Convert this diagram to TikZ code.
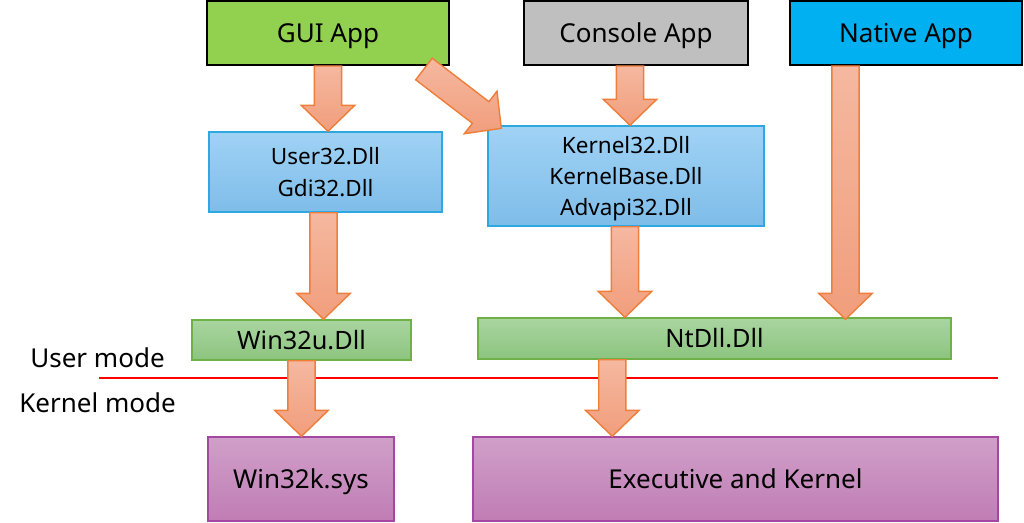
\documentclass[tikz,border=0pt]{standalone}
\usepackage{fontspec}
\setmainfont{Noto Sans}
\usetikzlibrary{calc, positioning}

\definecolor{guigreen}{HTML}{92D050}
\definecolor{consolegray}{HTML}{BFBFBF}
\definecolor{nativeblue}{HTML}{00B0F0}
\definecolor{dlltop}{HTML}{A0D2F5}
\definecolor{dllbot}{HTML}{7EBDE9}
\definecolor{dllline}{HTML}{2EA8E0}
\definecolor{stubtop}{HTML}{A9D5A0}
\definecolor{stubbot}{HTML}{8CC47F}
\definecolor{stubline}{HTML}{6FB047}
\definecolor{kerntop}{HTML}{D09FC9}
\definecolor{kernbot}{HTML}{C07DB5}
\definecolor{kernline}{HTML}{A347A3}
\definecolor{arrowtop}{HTML}{F5B8A0}
\definecolor{arrowbot}{HTML}{F19E7C}
\definecolor{arrowline}{HTML}{EE7E3A}

\def\shafthw{0.34cm}
\def\headhw{0.67cm}
\def\headlen{0.65cm}

% block arrow between two named coordinates
\newcommand{\blockarrow}[2]{%
    \coordinate (#1-base) at ($(#2)!\headlen!(#1)$);
    \filldraw[block_arrow]
        ($(#1)!\shafthw!90:(#2)$) --
        ($(#1-base)!\shafthw!90:(#2)$) --
        ($(#1-base)!\headhw!90:(#2)$) --
        (#2) --
        ($(#1-base)!\headhw!-90:(#2)$) --
        ($(#1-base)!\shafthw!-90:(#2)$) --
        ($(#1)!\shafthw!-90:(#2)$) -- cycle;
}

\begin{document}
\begin{tikzpicture}[
    x=0.025cm, y=-0.025cm,
    every node/.style={
            rectangle,
            text centered,
            inner sep=0pt
        },
    big_text/.style={font=\fontsize{18.5}{22}\selectfont, text height=13.2pt, text depth=0pt},
    app_block/.style={
            big_text,
            draw=black,
            line width=1.4pt
        },
    dll_block/.style={
            draw=dllline,
            line width=1pt,
            top color=dlltop,
            bottom color=dllbot,
            align=center,
            text depth=0pt,
            font=\fontsize{16}{22.3}\selectfont
        },
    stub_block/.style={
            draw=stubline,
            line width=1pt,
            top color=stubtop,
            bottom color=stubbot,
            font=\fontsize{18}{21}\selectfont,
            text height=12.9pt,
            text depth=0pt
        },
    kernel_block/.style={
            big_text,
            draw=kernline,
            line width=1pt,
            top color=kerntop,
            bottom color=kernbot
        },
    mode_label/.style={big_text},
    block_arrow/.style={
            draw=arrowline,
            line width=1pt,
            line join=miter,
            top color=arrowtop,
            bottom color=arrowbot
        },
    ]
    \useasboundingbox (0,0) rectangle (1024,522);

    % --- Applications ---
    \node (gui_app) [app_block, fill=guigreen, minimum width=242*0.025cm, minimum height=64*0.025cm] at (328,33) {GUI App};
    \node (console_app) [app_block, fill=consolegray, minimum width=224*0.025cm, minimum height=64*0.025cm] at (636,33) {Console App};
    \node (native_app) [app_block, fill=nativeblue, minimum width=232*0.025cm, minimum height=64*0.025cm] at (906,33) {Native App};

    % --- Subsystem DLLs ---
    \node (user_dll) [dll_block, minimum width=233*0.025cm, minimum height=80*0.025cm] at (325.5,172) {User32.Dll\\Gdi32.Dll};
    \node (kernel_dll) [dll_block, minimum width=276*0.025cm, minimum height=100*0.025cm] at (626,176) {Kernel32.Dll\\KernelBase.Dll\\Advapi32.Dll};

    % --- System call stubs ---
    \node (win32u) [stub_block, minimum width=219*0.025cm, minimum height=40*0.025cm] at (301.5,340) {Win32u.Dll};
    \node (ntdll) [stub_block, minimum width=473*0.025cm, minimum height=41*0.025cm] at (714.5,338.5) {NtDll.Dll};

    % --- Kernel side ---
    \node (win32k) [kernel_block, minimum width=186*0.025cm, minimum height=84*0.025cm] at (301,479) {Win32k.sys};
    \node (executive) [kernel_block, minimum width=525*0.025cm, minimum height=84*0.025cm] at (735.5,479) {Executive and Kernel};

    % --- Mode boundary ---
    \node (user_mode) [mode_label] at (97.5,358) {User mode};
    \node (kernel_mode) [mode_label] at (97.5,403) {Kernel mode};
    \coordinate (border_left) at (99,378);
    \coordinate (border_right) at (998,378);
    \draw[red, line width=1.4pt] (border_left) -- (border_right);

    % --- Arrows ---
    \coordinate (a1) at (gui_app.south);
    \coordinate (a1_end) at (gui_app.south |- user_dll.north);
    \blockarrow{a1}{a1_end}
    \coordinate (a2) at ($(gui_app.south east)+(-26,3)$);
    \coordinate (a2_end) at ($(kernel_dll.north west)+(14,3)$);
    \blockarrow{a2}{a2_end}
    \coordinate (a3) at ($(console_app.south)+(-6,0)$);
    \coordinate (a3_end) at (a3 |- kernel_dll.north);
    \blockarrow{a3}{a3_end}
    \coordinate (a4) at ($(native_app.south west)+(56.5,0)$);
    \coordinate (a4_end) at ($(a4 |- ntdll.north)+(0,2)$);
    \blockarrow{a4}{a4_end}
    \coordinate (a5) at ($(user_dll.south)+(-2,0)$);
    \coordinate (a5_end) at (a5 |- win32u.north);
    \blockarrow{a5}{a5_end}
    \coordinate (a6) at ($(kernel_dll.south)+(-1,0)$);
    \coordinate (a6_end) at (a6 |- ntdll.north);
    \blockarrow{a6}{a6_end}
    \coordinate (a7) at (win32u.south);
    \coordinate (a7_end) at (a7 |- win32k.north);
    \blockarrow{a7}{a7_end}
    \coordinate (a8) at ($(ntdll.south west)+(135,0)$);
    \coordinate (a8_end) at (a8 |- executive.north);
    \blockarrow{a8}{a8_end}

\end{tikzpicture}
\end{document}
